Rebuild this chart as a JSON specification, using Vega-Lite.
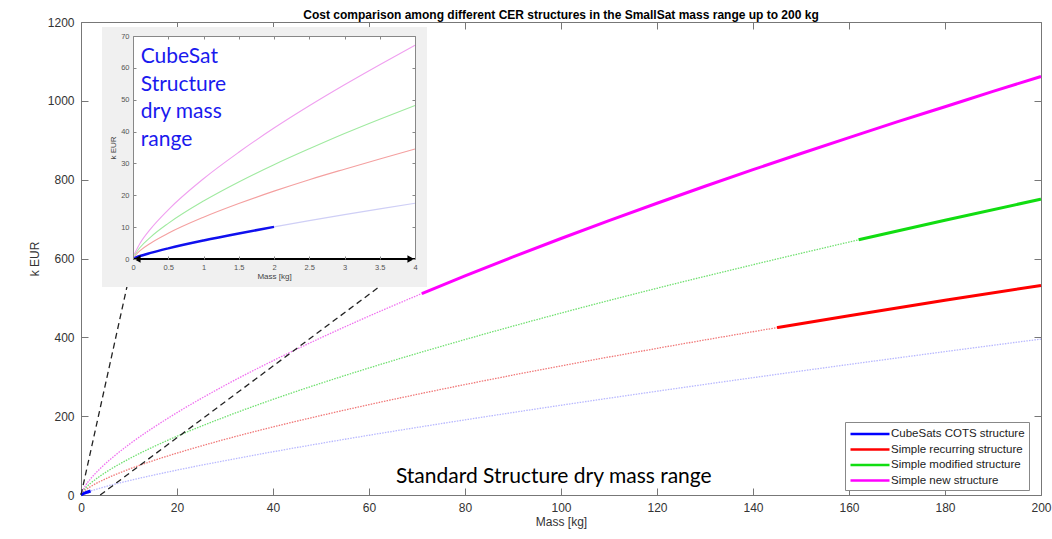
{
  "$schema": "https://vega.github.io/schema/vega-lite/v6.json",
  "width": 960,
  "height": 473,
  "autosize": {"type": "none"},
  "padding": {"left": 81, "top": 22, "right": 11, "bottom": 44},
  "background": "white",
  "config": {"view": {"stroke": null}, "font": "Liberation Sans"},
  "title": {"text": "Cost comparison among different CER structures in the SmallSat mass range up to 200 kg", "fontSize": 12, "fontWeight": "bold", "font": "Liberation Sans", "color": "#000000", "anchor": "middle", "offset": -6},
  "datasets": {
    "one": [{}],
    "main": [
      {"m": 0, "v": 0.3, "s": "CubeSats COTS structure", "p": "dotted"},
      {"m": 1, "v": 5.8, "s": "CubeSats COTS structure", "p": "dotted"},
      {"m": 2, "v": 10.1, "s": "CubeSats COTS structure", "p": "dotted"},
      {"m": 4, "v": 17.5, "s": "CubeSats COTS structure", "p": "dotted"},
      {"m": 6, "v": 24.2, "s": "CubeSats COTS structure", "p": "dotted"},
      {"m": 10, "v": 36.4, "s": "CubeSats COTS structure", "p": "dotted"},
      {"m": 15, "v": 50.2, "s": "CubeSats COTS structure", "p": "dotted"},
      {"m": 20, "v": 63.2, "s": "CubeSats COTS structure", "p": "dotted"},
      {"m": 30, "v": 87.2, "s": "CubeSats COTS structure", "p": "dotted"},
      {"m": 40, "v": 109.7, "s": "CubeSats COTS structure", "p": "dotted"},
      {"m": 50, "v": 131.1, "s": "CubeSats COTS structure", "p": "dotted"},
      {"m": 60, "v": 151.6, "s": "CubeSats COTS structure", "p": "dotted"},
      {"m": 70, "v": 171.4, "s": "CubeSats COTS structure", "p": "dotted"},
      {"m": 80, "v": 190.6, "s": "CubeSats COTS structure", "p": "dotted"},
      {"m": 100, "v": 227.7, "s": "CubeSats COTS structure", "p": "dotted"},
      {"m": 120, "v": 263.3, "s": "CubeSats COTS structure", "p": "dotted"},
      {"m": 140, "v": 297.7, "s": "CubeSats COTS structure", "p": "dotted"},
      {"m": 160, "v": 331.2, "s": "CubeSats COTS structure", "p": "dotted"},
      {"m": 180, "v": 363.8, "s": "CubeSats COTS structure", "p": "dotted"},
      {"m": 200, "v": 395.6, "s": "CubeSats COTS structure", "p": "dotted"},
      {"m": 0, "v": 0.3, "s": "CubeSats COTS structure", "p": "solid"},
      {"m": 1, "v": 5.8, "s": "CubeSats COTS structure", "p": "solid"},
      {"m": 2, "v": 10.1, "s": "CubeSats COTS structure", "p": "solid"},

      {"m": 0, "v": 1.5, "s": "Simple recurring structure", "p": "dotted"},
      {"m": 1, "v": 13.1, "s": "Simple recurring structure", "p": "dotted"},
      {"m": 2, "v": 21.3, "s": "Simple recurring structure", "p": "dotted"},
      {"m": 4, "v": 34.5, "s": "Simple recurring structure", "p": "dotted"},
      {"m": 6, "v": 45.8, "s": "Simple recurring structure", "p": "dotted"},
      {"m": 10, "v": 65.5, "s": "Simple recurring structure", "p": "dotted"},
      {"m": 15, "v": 87.0, "s": "Simple recurring structure", "p": "dotted"},
      {"m": 20, "v": 106.3, "s": "Simple recurring structure", "p": "dotted"},
      {"m": 30, "v": 141.2, "s": "Simple recurring structure", "p": "dotted"},
      {"m": 40, "v": 172.7, "s": "Simple recurring structure", "p": "dotted"},
      {"m": 50, "v": 201.7, "s": "Simple recurring structure", "p": "dotted"},
      {"m": 60, "v": 229.2, "s": "Simple recurring structure", "p": "dotted"},
      {"m": 70, "v": 255.3, "s": "Simple recurring structure", "p": "dotted"},
      {"m": 80, "v": 280.2, "s": "Simple recurring structure", "p": "dotted"},
      {"m": 100, "v": 327.5, "s": "Simple recurring structure", "p": "dotted"},
      {"m": 120, "v": 372.0, "s": "Simple recurring structure", "p": "dotted"},
      {"m": 145, "v": 424.7, "s": "Simple recurring structure", "p": "dotted"},
      {"m": 145, "v": 424.7, "s": "Simple recurring structure", "p": "solid"},
      {"m": 160, "v": 455.0, "s": "Simple recurring structure", "p": "solid"},
      {"m": 180, "v": 493.9, "s": "Simple recurring structure", "p": "solid"},
      {"m": 200, "v": 531.6, "s": "Simple recurring structure", "p": "solid"},

      {"m": 0, "v": 1.5, "s": "Simple modified structure", "p": "dotted"},
      {"m": 1, "v": 18.2, "s": "Simple modified structure", "p": "dotted"},
      {"m": 2, "v": 29.6, "s": "Simple modified structure", "p": "dotted"},
      {"m": 4, "v": 48.2, "s": "Simple modified structure", "p": "dotted"},
      {"m": 6, "v": 64.0, "s": "Simple modified structure", "p": "dotted"},
      {"m": 10, "v": 91.7, "s": "Simple modified structure", "p": "dotted"},
      {"m": 15, "v": 121.8, "s": "Simple modified structure", "p": "dotted"},
      {"m": 20, "v": 149.1, "s": "Simple modified structure", "p": "dotted"},
      {"m": 30, "v": 198.0, "s": "Simple modified structure", "p": "dotted"},
      {"m": 40, "v": 242.6, "s": "Simple modified structure", "p": "dotted"},
      {"m": 50, "v": 283.6, "s": "Simple modified structure", "p": "dotted"},
      {"m": 60, "v": 322.3, "s": "Simple modified structure", "p": "dotted"},
      {"m": 70, "v": 359.1, "s": "Simple modified structure", "p": "dotted"},
      {"m": 80, "v": 394.4, "s": "Simple modified structure", "p": "dotted"},
      {"m": 100, "v": 461.5, "s": "Simple modified structure", "p": "dotted"},
      {"m": 120, "v": 524.5, "s": "Simple modified structure", "p": "dotted"},
      {"m": 140, "v": 584.2, "s": "Simple modified structure", "p": "dotted"},
      {"m": 162, "v": 647.4, "s": "Simple modified structure", "p": "dotted"},
      {"m": 162, "v": 647.4, "s": "Simple modified structure", "p": "solid"},
      {"m": 180, "v": 697.2, "s": "Simple modified structure", "p": "solid"},
      {"m": 200, "v": 750.6, "s": "Simple modified structure", "p": "solid"},

      {"m": 0, "v": 1.5, "s": "Simple new structure", "p": "dotted"},
      {"m": 1, "v": 25.2, "s": "Simple new structure", "p": "dotted"},
      {"m": 2, "v": 41.1, "s": "Simple new structure", "p": "dotted"},
      {"m": 4, "v": 67.1, "s": "Simple new structure", "p": "dotted"},
      {"m": 6, "v": 89.3, "s": "Simple new structure", "p": "dotted"},
      {"m": 10, "v": 128.1, "s": "Simple new structure", "p": "dotted"},
      {"m": 15, "v": 170.5, "s": "Simple new structure", "p": "dotted"},
      {"m": 20, "v": 208.9, "s": "Simple new structure", "p": "dotted"},
      {"m": 30, "v": 278.2, "s": "Simple new structure", "p": "dotted"},
      {"m": 40, "v": 340.7, "s": "Simple new structure", "p": "dotted"},
      {"m": 50, "v": 398.9, "s": "Simple new structure", "p": "dotted"},
      {"m": 60, "v": 453.8, "s": "Simple new structure", "p": "dotted"},
      {"m": 71, "v": 511.1, "s": "Simple new structure", "p": "dotted"},
      {"m": 71, "v": 511.1, "s": "Simple new structure", "p": "solid"},
      {"m": 80, "v": 555.9, "s": "Simple new structure", "p": "solid"},
      {"m": 90, "v": 604.1, "s": "Simple new structure", "p": "solid"},
      {"m": 100, "v": 650.7, "s": "Simple new structure", "p": "solid"},
      {"m": 110, "v": 696.0, "s": "Simple new structure", "p": "solid"},
      {"m": 120, "v": 740.1, "s": "Simple new structure", "p": "solid"},
      {"m": 130, "v": 783.2, "s": "Simple new structure", "p": "solid"},
      {"m": 140, "v": 825.3, "s": "Simple new structure", "p": "solid"},
      {"m": 150, "v": 866.4, "s": "Simple new structure", "p": "solid"},
      {"m": 160, "v": 906.7, "s": "Simple new structure", "p": "solid"},
      {"m": 170, "v": 946.5, "s": "Simple new structure", "p": "solid"},
      {"m": 180, "v": 985.1, "s": "Simple new structure", "p": "solid"},
      {"m": 190, "v": 1023.9, "s": "Simple new structure", "p": "solid"},
      {"m": 200, "v": 1061.7, "s": "Simple new structure", "p": "solid"}
    ],
    "inset": [
      {"m": 0.02, "v": 0.26, "s": "CubeSats COTS structure", "p": "solid"},
      {"m": 0.1, "v": 0.93, "s": "CubeSats COTS structure", "p": "solid"},
      {"m": 0.25, "v": 1.92, "s": "CubeSats COTS structure", "p": "solid"},
      {"m": 0.5, "v": 3.34, "s": "CubeSats COTS structure", "p": "solid"},
      {"m": 1, "v": 5.8, "s": "CubeSats COTS structure", "p": "solid"},
      {"m": 1.5, "v": 8.01, "s": "CubeSats COTS structure", "p": "solid"},
      {"m": 2, "v": 10.08, "s": "CubeSats COTS structure", "p": "solid"},
      {"m": 2, "v": 10.08, "s": "CubeSats COTS structure", "p": "light"},
      {"m": 2.5, "v": 12.04, "s": "CubeSats COTS structure", "p": "light"},
      {"m": 3, "v": 13.92, "s": "CubeSats COTS structure", "p": "light"},
      {"m": 3.5, "v": 15.74, "s": "CubeSats COTS structure", "p": "light"},
      {"m": 4, "v": 17.51, "s": "CubeSats COTS structure", "p": "light"},

      {"m": 0.02, "v": 0.85, "s": "Simple recurring structure", "p": "light"},
      {"m": 0.1, "v": 2.62, "s": "Simple recurring structure", "p": "light"},
      {"m": 0.25, "v": 4.97, "s": "Simple recurring structure", "p": "light"},
      {"m": 0.5, "v": 8.07, "s": "Simple recurring structure", "p": "light"},
      {"m": 1, "v": 13.1, "s": "Simple recurring structure", "p": "light"},
      {"m": 1.5, "v": 17.4, "s": "Simple recurring structure", "p": "light"},
      {"m": 2, "v": 21.3, "s": "Simple recurring structure", "p": "light"},
      {"m": 2.5, "v": 24.9, "s": "Simple recurring structure", "p": "light"},
      {"m": 3, "v": 28.2, "s": "Simple recurring structure", "p": "light"},
      {"m": 3.5, "v": 31.4, "s": "Simple recurring structure", "p": "light"},
      {"m": 4, "v": 34.5, "s": "Simple recurring structure", "p": "light"},

      {"m": 0.02, "v": 1.17, "s": "Simple modified structure", "p": "light"},
      {"m": 0.1, "v": 3.61, "s": "Simple modified structure", "p": "light"},
      {"m": 0.25, "v": 6.88, "s": "Simple modified structure", "p": "light"},
      {"m": 0.5, "v": 11.19, "s": "Simple modified structure", "p": "light"},
      {"m": 1, "v": 18.2, "s": "Simple modified structure", "p": "light"},
      {"m": 1.5, "v": 24.2, "s": "Simple modified structure", "p": "light"},
      {"m": 2, "v": 29.6, "s": "Simple modified structure", "p": "light"},
      {"m": 2.5, "v": 34.6, "s": "Simple modified structure", "p": "light"},
      {"m": 3, "v": 39.4, "s": "Simple modified structure", "p": "light"},
      {"m": 3.5, "v": 43.9, "s": "Simple modified structure", "p": "light"},
      {"m": 4, "v": 48.2, "s": "Simple modified structure", "p": "light"},

      {"m": 0.02, "v": 1.6, "s": "Simple new structure", "p": "light"},
      {"m": 0.1, "v": 4.96, "s": "Simple new structure", "p": "light"},
      {"m": 0.25, "v": 9.47, "s": "Simple new structure", "p": "light"},
      {"m": 0.5, "v": 15.45, "s": "Simple new structure", "p": "light"},
      {"m": 1, "v": 25.2, "s": "Simple new structure", "p": "light"},
      {"m": 1.5, "v": 33.5, "s": "Simple new structure", "p": "light"},
      {"m": 2, "v": 41.1, "s": "Simple new structure", "p": "light"},
      {"m": 2.5, "v": 48.1, "s": "Simple new structure", "p": "light"},
      {"m": 3, "v": 54.7, "s": "Simple new structure", "p": "light"},
      {"m": 3.5, "v": 61.0, "s": "Simple new structure", "p": "light"},
      {"m": 4, "v": 67.1, "s": "Simple new structure", "p": "light"}
    ]
  },
  "layer": [
    {
      "layer": [
        {
          "data": {"name": "main"},
          "transform": [{"filter": "datum.p === 'dotted'"}],
          "mark": {"type": "line", "strokeWidth": 1.3, "strokeDash": [1.5, 1.2], "interpolate": "monotone"},
          "encoding": {
            "x": {"field": "m", "type": "quantitative", "scale": {"domain": [0, 200], "nice": false, "zero": false},
                  "axis": {"orient": "bottom", "values": [0, 20, 40, 60, 80, 100, 120, 140, 160, 180, 200], "format": "d", "ticks": false, "grid": false, "labelFontSize": 12, "labelColor": "#333333", "labelPadding": 7, "labelFlush": false, "labelOverlap": false, "domainColor": "#777777", "title": "Mass [kg]", "titleFontSize": 12, "titleFontWeight": "normal", "titleColor": "#333333", "titlePadding": 3}},
            "y": {"field": "v", "type": "quantitative", "scale": {"domain": [0, 1200], "nice": false, "zero": false},
                  "axis": {"orient": "left", "values": [0, 200, 400, 600, 800, 1000, 1200], "format": "d", "ticks": false, "grid": false, "labelFontSize": 12, "labelColor": "#333333", "labelPadding": 7, "labelFlush": false, "labelOverlap": false, "domainColor": "#777777", "title": "k EUR", "titleFontSize": 12, "titleFontWeight": "normal", "titleColor": "#333333", "titlePadding": 6}},
            "stroke": {"field": "s", "type": "nominal", "scale": {"domain": ["CubeSats COTS structure", "Simple recurring structure", "Simple modified structure", "Simple new structure"], "range": ["#b8b8ff", "#f07878", "#70e070", "#f070f0"]}, "legend": null}
          }
        },
        {
          "data": {"name": "main"},
          "transform": [{"filter": "datum.p === 'solid'"}],
          "mark": {"type": "line", "strokeWidth": 3, "interpolate": "monotone"},
          "encoding": {
            "x": {"field": "m", "type": "quantitative", "scale": {"domain": [0, 200], "nice": false, "zero": false},
                  "axis": {"orient": "top", "values": [0, 20, 40, 60, 80, 100, 120, 140, 160, 180, 200], "labels": false, "ticks": true, "tickSize": -7, "tickColor": "#777777", "grid": false, "domainColor": "#777777", "title": null}},
            "y": {"field": "v", "type": "quantitative", "scale": {"domain": [0, 1200], "nice": false, "zero": false},
                  "axis": {"orient": "right", "values": [0, 200, 400, 600, 800, 1000, 1200], "labels": false, "ticks": true, "tickSize": -7, "tickColor": "#777777", "grid": false, "domainColor": "#777777", "title": null}},
            "color": {"field": "s", "type": "nominal", "scale": {"domain": ["CubeSats COTS structure", "Simple recurring structure", "Simple modified structure", "Simple new structure"], "range": ["#0000ff", "#ff0000", "#11dd11", "#ff00ff"]},
                      "legend": {"orient": "none", "legendX": 764, "legendY": 400, "title": null, "symbolType": "M-1,0H5", "symbolSize": 169, "symbolStrokeWidth": 2.5, "labelFontSize": 11.5, "labelColor": "#222222", "labelOffset": 26, "rowPadding": 1.5, "padding": 4, "strokeColor": "#888888", "fillColor": "#ffffff", "cornerRadius": 0}}
          }
        },
        {
          "data": {"name": "one"},
          "mark": {"type": "rule", "strokeDash": [6, 4], "strokeWidth": 1.3, "color": "#222222"},
          "encoding": {
            "x": {"datum": 0, "type": "quantitative", "scale": {"domain": [0, 200], "nice": false, "zero": false},
                  "axis": {"orient": "bottom", "values": [0, 20, 40, 60, 80, 100, 120, 140, 160, 180, 200], "labels": false, "domain": false, "ticks": true, "tickSize": -7, "tickColor": "#777777", "grid": false, "title": null}},
            "y": {"datum": 0, "type": "quantitative", "scale": {"domain": [0, 1200], "nice": false, "zero": false},
                  "axis": {"orient": "left", "values": [0, 200, 400, 600, 800, 1000, 1200], "labels": false, "domain": false, "ticks": true, "tickSize": -7, "tickColor": "#777777", "grid": false, "title": null}},
            "x2": {"datum": 10.8},
            "y2": {"datum": 596}
          }
        },
        {
          "data": {"name": "one"},
          "mark": {"type": "rule", "strokeDash": [6, 4], "strokeWidth": 1.3, "color": "#222222"},
          "encoding": {
            "x": {"datum": 4, "type": "quantitative", "axis": null},
            "y": {"datum": 0, "type": "quantitative", "axis": null},
            "x2": {"datum": 69.6},
            "y2": {"datum": 596}
          }
        },
        {
          "data": {"name": "one"},
          "mark": {"type": "text", "text": "Standard Structure dry mass range", "font": "Lato", "fontSize": 21, "color": "#000000", "align": "center", "baseline": "alphabetic"},
          "encoding": {
            "x": {"datum": 98.5, "type": "quantitative", "axis": null},
            "y": {"datum": 30, "type": "quantitative", "axis": null}
          }
        }
      ],
      "resolve": {"axis": {"x": "independent", "y": "independent"}}
    },
    {
      "layer": [
        {
          "data": {"name": "one"},
          "mark": {"type": "rect", "fill": "#f0f0f0"},
          "encoding": {
            "x": {"datum": -0.44, "type": "quantitative", "scale": {"domain": [0, 4], "range": [52, 334], "nice": false, "zero": false}, "axis": null},
            "x2": {"datum": 4.17},
            "y": {"datum": -8.8, "type": "quantitative", "scale": {"domain": [0, 70], "range": [237, 14], "nice": false, "zero": false}, "axis": null},
            "y2": {"datum": 72.8}
          }
        },
        {
          "data": {"name": "one"},
          "mark": {"type": "rect", "fill": "#ffffff"},
          "encoding": {
            "x": {"datum": 0, "type": "quantitative", "axis": null},
            "x2": {"datum": 4},
            "y": {"datum": 0, "type": "quantitative", "axis": null},
            "y2": {"datum": 70}
          }
        },
        {
          "data": {"name": "inset"},
          "transform": [{"filter": "datum.p === 'light'"}],
          "mark": {"type": "line", "strokeWidth": 1.1, "interpolate": "monotone"},
          "encoding": {
            "x": {"field": "m", "type": "quantitative", "scale": {"domain": [0, 4], "range": [52, 334], "nice": false, "zero": false},
                  "axis": {"orient": "bottom", "offset": -236, "zindex": 1, "values": [0, 0.5, 1, 1.5, 2, 2.5, 3, 3.5, 4], "format": "~g", "ticks": false, "domain": false, "grid": false, "labelFontSize": 7.5, "labelColor": "#555555", "labelPadding": 4, "labelFlush": false, "labelOverlap": false, "title": "Mass [kg]", "titleFontSize": 8, "titleFontWeight": "normal", "titleColor": "#444444", "titlePadding": 2}},
            "y": {"field": "v", "type": "quantitative", "scale": {"domain": [0, 70], "range": [237, 14], "nice": false, "zero": false},
                  "axis": {"orient": "left", "offset": -52, "zindex": 1, "values": [0, 10, 20, 30, 40, 50, 60, 70], "format": "d", "ticks": false, "grid": false, "domainColor": "#888888", "labelFontSize": 7.5, "labelColor": "#555555", "labelPadding": 4, "labelFlush": false, "labelOverlap": false, "title": "k EUR", "titleFontSize": 8, "titleFontWeight": "normal", "titleColor": "#444444", "titlePadding": 3}},
            "stroke": {"field": "s", "type": "nominal", "scale": {"domain": ["CubeSats COTS structure", "Simple recurring structure", "Simple modified structure", "Simple new structure"], "range": ["#cfcff6", "#f4a0a0", "#a0eaa0", "#f0a0f0"]}, "legend": null}
          }
        },
        {
          "data": {"name": "inset"},
          "transform": [{"filter": "datum.p === 'solid'"}],
          "mark": {"type": "line", "strokeWidth": 2.5, "color": "#1010ee", "interpolate": "monotone"},
          "encoding": {
            "x": {"field": "m", "type": "quantitative", "scale": {"domain": [0, 4], "range": [52, 334], "nice": false, "zero": false},
                  "axis": {"orient": "top", "offset": -14, "zindex": 1, "values": [0, 0.5, 1, 1.5, 2, 2.5, 3, 3.5, 4], "labels": false, "ticks": true, "tickSize": -3, "tickColor": "#888888", "domainColor": "#888888", "grid": false, "title": null}},
            "y": {"field": "v", "type": "quantitative", "scale": {"domain": [0, 70], "range": [237, 14], "nice": false, "zero": false},
                  "axis": {"orient": "right", "offset": -626, "zindex": 1, "values": [0, 10, 20, 30, 40, 50, 60, 70], "labels": false, "ticks": true, "tickSize": -3, "tickColor": "#888888", "domainColor": "#888888", "grid": false, "title": null}}
          }
        },
        {
          "data": {"name": "one"},
          "mark": {"type": "rule", "strokeWidth": 2, "color": "#000000"},
          "encoding": {
            "x": {"datum": 0, "type": "quantitative",
                  "axis": {"orient": "bottom", "offset": -236, "zindex": 1, "values": [0, 0.5, 1, 1.5, 2, 2.5, 3, 3.5, 4], "labels": false, "domain": false, "ticks": true, "tickSize": -3, "tickColor": "#888888", "grid": false, "title": null}},
            "x2": {"datum": 4},
            "y": {"datum": 0, "type": "quantitative",
                  "axis": {"orient": "left", "offset": -52, "zindex": 1, "values": [0, 10, 20, 30, 40, 50, 60, 70], "labels": false, "domain": false, "ticks": true, "tickSize": -3, "tickColor": "#888888", "grid": false, "title": null}}
          }
        },
        {
          "data": {"name": "one"},
          "mark": {"type": "point", "shape": "triangle-left", "filled": true, "color": "#000000", "size": 60, "opacity": 1},
          "encoding": {
            "x": {"datum": 0.06, "type": "quantitative", "axis": null},
            "y": {"datum": 0, "type": "quantitative", "axis": null}
          }
        },
        {
          "data": {"name": "one"},
          "mark": {"type": "point", "shape": "triangle-right", "filled": true, "color": "#000000", "size": 60, "opacity": 1},
          "encoding": {
            "x": {"datum": 3.94, "type": "quantitative", "axis": null},
            "y": {"datum": 0, "type": "quantitative", "axis": null}
          }
        },
        {
          "data": {"name": "one"},
          "mark": {"type": "text", "text": ["CubeSat", "Structure", "dry mass", "range"], "lineHeight": 27.5, "font": "Lato", "fontSize": 21, "color": "#1a1aee", "align": "left", "baseline": "top"},
          "encoding": {
            "x": {"datum": 0.11, "type": "quantitative", "axis": null},
            "y": {"datum": 66.8, "type": "quantitative", "axis": null}
          }
        }
      ],
      "resolve": {"axis": {"x": "independent", "y": "independent"}}
    }
  ],
  "resolve": {"scale": {"x": "independent", "y": "independent", "stroke": "independent"}, "axis": {"x": "independent", "y": "independent"}}
}
